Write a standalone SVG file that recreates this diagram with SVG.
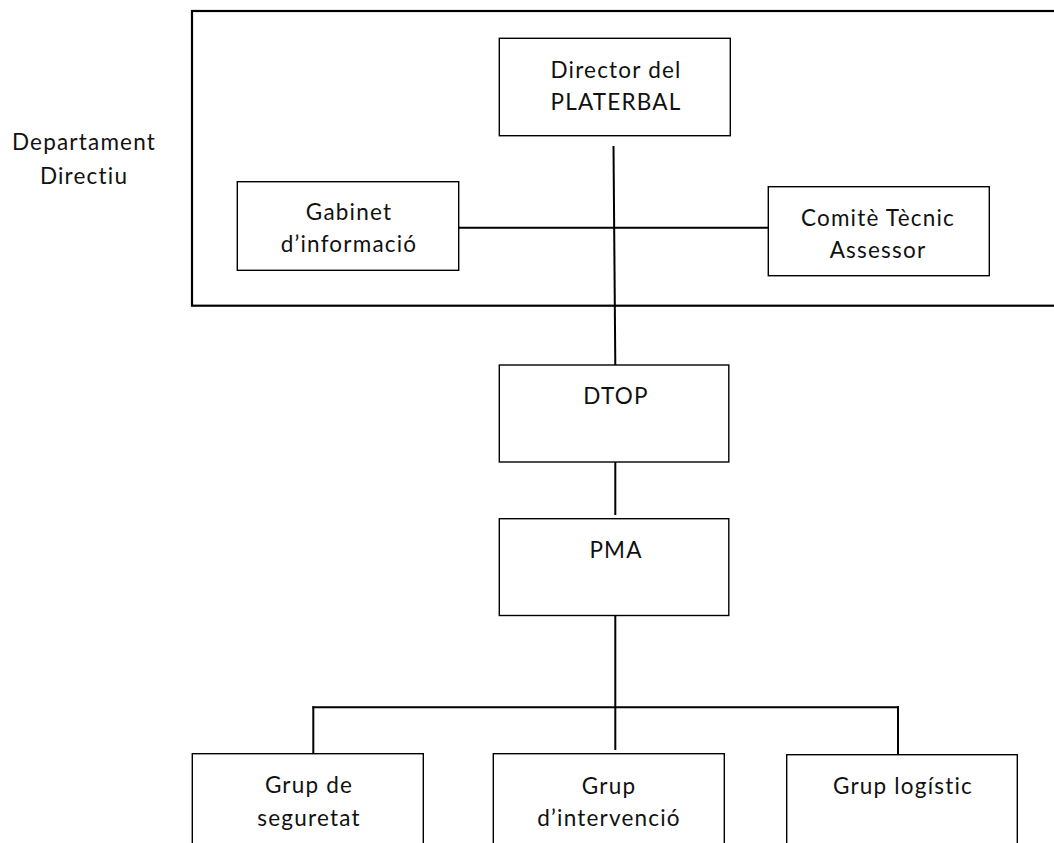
<svg xmlns="http://www.w3.org/2000/svg" width="1054" height="843" viewBox="0 0 1054 843">
<style>
.box{fill:#fff;stroke:#000;stroke-width:1.4}
.outer{fill:none;stroke:#000;stroke-width:2.2}
.conn line{stroke:#000;stroke-width:2}
text{font-family:"Lato","Open Sans",sans-serif;font-size:22.5px;letter-spacing:1.2px;fill:#111;text-anchor:middle}
</style>
<rect width="1054" height="843" fill="#fff"/>
<g id="departament">
<rect class="outer" x="192" y="11" width="900" height="294.7"/>
<text x="84" y="150">Departament</text>
<text x="84" y="184">Directiu</text>
</g>
<g class="conn" id="connectors">
<line x1="613.5" y1="146" x2="615.3" y2="365"/>
<line x1="458.7" y1="227.7" x2="768.3" y2="227.7"/>
<line x1="615.3" y1="462" x2="615.3" y2="515"/>
<line x1="615.3" y1="615.7" x2="615.3" y2="750"/>
<line x1="312.3" y1="707.3" x2="899" y2="707.3"/>
<line x1="313.3" y1="706.3" x2="313.3" y2="764"/>
<line x1="898" y1="706.3" x2="898" y2="764"/>
</g>
<g id="director">
<rect class="box" x="499.3" y="38.3" width="231" height="97.4"/>
<text x="616" y="78.3">Director del</text>
<text x="616" y="110.3">PLATERBAL</text>
</g>
<g id="gabinet">
<rect class="box" x="237.3" y="181.7" width="221.4" height="88.6"/>
<text x="349" y="220">Gabinet</text>
<text x="349" y="252">d’informació</text>
</g>
<g id="comite">
<rect class="box" x="768.3" y="186.7" width="221" height="89"/>
<text x="878" y="226">Comitè Tècnic</text>
<text x="878" y="258">Assessor</text>
</g>
<g id="dtop">
<rect class="box" x="499.3" y="365" width="229.5" height="97"/>
<text x="616" y="404">DTOP</text>
</g>
<g id="pma">
<rect class="box" x="499.3" y="518.7" width="229.5" height="96.8"/>
<text x="616" y="558">PMA</text>
</g>
<g id="seguretat">
<rect class="box" x="192.3" y="753.7" width="231" height="120"/>
<text x="309" y="793">Grup de</text>
<text x="309" y="825.5">seguretat</text>
</g>
<g id="intervencio">
<rect class="box" x="493.3" y="753.7" width="231" height="120"/>
<text x="609" y="794">Grup</text>
<text x="609" y="825.5">d’intervenció</text>
</g>
<g id="logistic">
<rect class="box" x="786.7" y="754.7" width="230.6" height="120"/>
<text x="903" y="794">Grup logístic</text>
</g>
</svg>
